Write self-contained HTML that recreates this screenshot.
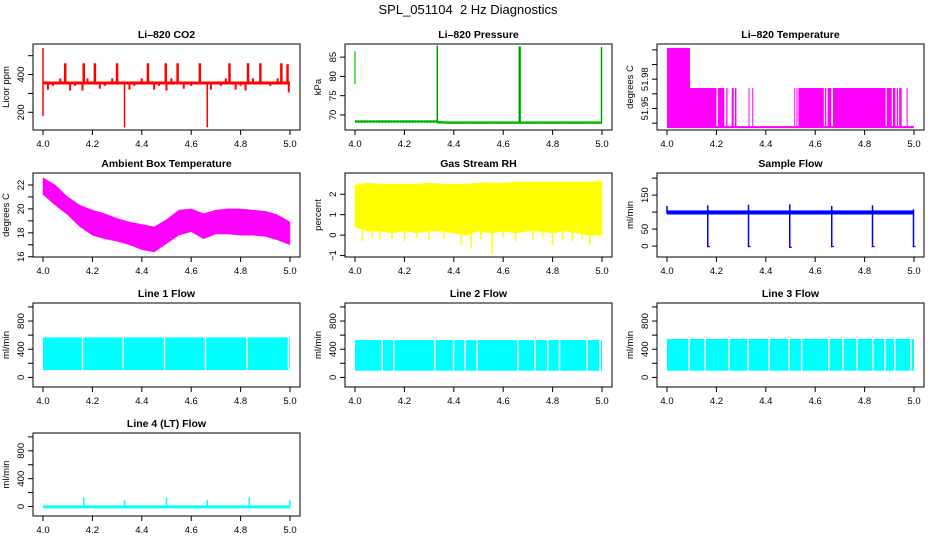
<!DOCTYPE html>
<html><head><meta charset="utf-8">
<style>
html,body{margin:0;padding:0;background:#fff;}
svg{display:block;font-family:"Liberation Sans",Arial,sans-serif;}
</style></head>
<body>
<svg id="c" width="936" height="540" viewBox="0 0 936 540" xmlns="http://www.w3.org/2000/svg">
<text x="468" y="14" text-anchor="middle" font-size="13" xml:space="preserve" style="white-space:pre">SPL_051104  2 Hz Diagnostics</text>
</svg>
<script>
// ---------- data ----------
const xTicks=[4.0,4.2,4.4,4.6,4.8,5.0];
const xTickLabels=["4.0","4.2","4.4","4.6","4.8","5.0"];
const gridX=[4.0,4.05,4.1,4.15,4.2,4.25,4.3,4.35,4.4,4.45,4.5,4.55,4.6,4.65,4.7,4.75,4.8,4.85,4.9,4.95,5.0];
// CO2
const co2Base=355;
const co2SpikeX=[4.09,4.165,4.21,4.30,4.425,4.497,4.545,4.635,4.755,4.83,4.88,4.965,4.99];
const co2SpikeY=[460,460,460,460,460,460,460,460,460,460,460,460,455];
const co2SmallX=[4.02,4.04,4.07,4.11,4.13,4.16,4.18,4.23,4.25,4.28,4.35,4.37,4.40,4.45,4.47,4.50,4.52,4.57,4.60,4.68,4.72,4.74,4.78,4.80,4.82,4.85,4.92,4.95,4.995];
const co2SmallY=[320,340,380,315,340,315,380,325,340,380,320,340,380,320,340,315,380,325,340,320,340,380,320,340,315,380,340,380,305];
const co2DownX=[4.0,4.33,4.665];
const co2DownY=[180,120,120];
// Pressure
const presX=[4.0,4.33,4.335,4.38,5.0];
const presY=[68.3,68.3,68.1,68.0,68.0];
const presSpikeX=[4.333,4.667,4.998];
const presSpikeY=[88.0,87.8,87.6];
// Li-820 temperature
const tempLow=51.931, tempMid=51.971, tempHigh=52.012;
const tempHighBlocks=[[4.0,4.093]];
const tempMidBlocks=[[4.093,4.2],[4.206,4.232],[4.24,4.245],[4.262,4.27],[4.275,4.281],[4.33,4.333],[4.345,4.348],[4.515,4.518],[4.524,4.528],[4.532,4.635],[4.64,4.645],[4.65,4.665],[4.672,4.885],[4.89,4.91],[4.915,4.925],[4.93,4.935],[4.94,4.95],[4.97,4.973]];
// Ambient box temperature envelope
const ambHi=[22.6,22.0,21.0,20.3,19.9,19.6,19.2,18.9,18.7,18.5,19.1,19.9,20.0,19.6,19.9,20.0,20.0,19.9,19.8,19.5,18.9];
const ambLo=[21.2,20.3,19.5,18.5,17.8,17.5,17.3,17.0,16.6,16.4,17.1,17.8,18.1,17.5,17.9,17.9,17.8,17.8,17.7,17.4,17.0];
// Gas stream RH envelope
const rhHi=[2.45,2.55,2.5,2.5,2.5,2.5,2.55,2.5,2.5,2.5,2.55,2.55,2.55,2.6,2.6,2.6,2.6,2.6,2.6,2.6,2.65];
const rhLo=[0.4,0.2,0.2,0.1,0.2,0.1,0.2,0.2,0.1,0.0,0.2,0.1,0.2,0.1,0.2,0.2,0.1,0.2,0.1,0.0,0.0];
const rhSpikeX=[4.03,4.07,4.1,4.15,4.2,4.25,4.3,4.36,4.43,4.47,4.51,4.555,4.6,4.65,4.72,4.76,4.8,4.84,4.88,4.92,4.95];
const rhSpikeY=[-0.3,-0.1,-0.2,-0.2,-0.3,-0.1,-0.2,-0.2,-0.5,-0.6,-0.2,-0.95,-0.1,-0.3,-0.2,-0.1,-0.5,-0.2,-0.3,-0.2,-0.5];
// Sample flow
const sfHi=105, sfLo=93;
const sfEventX=[4.165,4.33,4.497,4.667,4.832,4.998];
const sfEventLow=[-3,-3,-5,-3,-3,-3];
const sfEventHigh=[120,122,123,118,120,108];
// Line flows
const l1Hi=568,l1Lo=104;
const l1Gaps=[4.16,4.325,4.492,4.658,4.826,4.994];
const l2Hi=530,l2Lo=95;
const l2Gaps=[4.11,4.157,4.323,4.399,4.445,4.494,4.659,4.728,4.78,4.828,4.939,4.992];
const l3Hi=545,l3Lo=95;
const l3Gaps=[4.089,4.154,4.251,4.328,4.413,4.494,4.545,4.655,4.712,4.769,4.833,4.882,4.922,4.987];
const l4Base=-5;
const l4SpikeX=[4.165,4.33,4.5,4.665,4.835,5.0];
const l4SpikeY=[130,90,130,90,130,90];

// ---------- helpers ----------
const svg=document.getElementById('c');
const NS='http://www.w3.org/2000/svg';
function mk(tag,attrs,parent){const e=document.createElementNS(NS,tag);for(const k in attrs)e.setAttribute(k,attrs[k]);(parent||svg).appendChild(e);return e;}
const COLS=[33,345,657], ROWS=[[44,130],[173,257],[303,387],[433,516]];
function panel(col,row,title,ylab,ylim,yticks,ylabels,name){
  const L=COLS[col],R=L+267,T=ROWS[row][0],B=ROWS[row][1];
  const g=mk('g',{});
  
  
  const sx=v=>L+10+(v-4)*247;
  const sy=v=>B-(v-ylim[0])/(ylim[1]-ylim[0])*(B-T);
  const t=mk('text',{x:(L+R)/2,y:T-6,'text-anchor':'middle','font-size':10.5,'font-weight':'bold'},g);
  t.textContent=title;
  
  
  const yl=mk('text',{x:0,y:0,'text-anchor':'middle','font-size':9.5,transform:`translate(${L-24},${(T+B)/2}) rotate(-90)`},g);
  yl.textContent=ylab;
  
  
  const data=mk('g',{},g);
  
  
  const box=mk('rect',{x:L,y:T,width:R-L,height:B-T,fill:'none',stroke:'#000','stroke-width':1},g);
  
  
  xTicks.forEach((v,i)=>{
    mk('line',{x1:sx(v),x2:sx(v),y1:B,y2:B+5,stroke:'#000'},g);
    const tl=mk('text',{x:sx(v),y:B+17,'text-anchor':'middle','font-size':9.5},g);
    tl.textContent=xTickLabels[i];
    
    
  });
  yticks.forEach((v,i)=>{
    mk('line',{x1:L,x2:L-5,y1:sy(v),y2:sy(v),stroke:'#000'},g);
    if(ylabels[i]!==''){
      const tl=mk('text',{x:0,y:0,'text-anchor':'middle','font-size':9.5,transform:`translate(${L-9},${sy(v)}) rotate(-90)`},g);
      tl.textContent=ylabels[i];
      
      
    }
  });
  return {sx,sy,g:data};
}
function band(p,hi,lo,color){
  let d='M';
  gridX.forEach((x,i)=>{d+=p.sx(x)+','+p.sy(hi[i])+' L';});
  for(let i=gridX.length-1;i>=0;i--){d+=p.sx(gridX[i])+','+p.sy(lo[i])+(i>0?' L':' Z');}
  const e=mk('path',{d:d,fill:color,stroke:color,'stroke-width':0.5},p.g);
  
  
}
function vline(p,x,y1,y2,color,w){
  const e=mk('line',{x1:p.sx(x),x2:p.sx(x),y1:p.sy(y1),y2:p.sy(y2),stroke:color,'stroke-width':w||1},p.g);
  
  
}

// ---------- panels ----------
let p=panel(0,0,'Li\u2013820 CO2','Licor ppm',[106,562],[200,300,400,500],['200','','400','']);
co2SmallX.forEach((x,i)=>vline(p,x,co2Base,co2SmallY[i],'#ff0000',2));
co2SpikeX.forEach((x,i)=>vline(p,x,co2Base,co2SpikeY[i],'#ff0000',2.5));
co2DownX.forEach((x,i)=>vline(p,x,co2Base,co2DownY[i],'#ff0000',1.5));
vline(p,4.0,co2Base,540,'#ff0000',1.5);
{const e=mk('line',{x1:p.sx(4.0),x2:p.sx(5.0),y1:p.sy(co2Base),y2:p.sy(co2Base),stroke:'#ff0000','stroke-width':3},p.g);
}

p=panel(1,0,'Li\u2013820 Pressure','kPa',[66.1,88.4],[70,75,80,85],['70','75','80','85']);
{const pts=presX.map((x,i)=>p.sx(x)+','+p.sy(presY[i])).join(' ');
const e=mk('polyline',{points:pts,fill:'none',stroke:'#00cc00','stroke-width':2.5},p.g);

const e2=mk('polyline',{points:pts,fill:'none',stroke:'#006600','stroke-width':1,'stroke-dasharray':'1 2'},p.g);
}
presSpikeX.forEach((x,i)=>{vline(p,x,68.1,presSpikeY[i],'#00cc00',i==1?2.5:1.5);vline(p,x,68.1,presSpikeY[i],'#006600',0.6);});
vline(p,4.0,78,86.5,'#00cc00',1.2);

p=panel(2,0,'Li\u2013820 Temperature','degrees C',[51.928,52.016],[51.935,51.95,51.965,51.98,51.995,52.01],['','51.95','','51.98','','']);
tempHighBlocks.forEach(b=>{const e=mk('rect',{x:p.sx(b[0]),y:p.sy(tempHigh),width:p.sx(b[1])-p.sx(b[0]),height:p.sy(tempLow)-p.sy(tempHigh),fill:'#ff00ff'},p.g);});
tempMidBlocks.forEach(b=>{const e=mk('rect',{x:p.sx(b[0]),y:p.sy(tempMid),width:Math.max(1,p.sx(b[1])-p.sx(b[0])),height:p.sy(tempLow)-p.sy(tempMid),fill:'#ff00ff'},p.g);});
{const e=mk('line',{x1:p.sx(4.0),x2:p.sx(5.0),y1:p.sy(tempLow),y2:p.sy(tempLow),stroke:'#ff00ff','stroke-width':2},p.g);}

p=panel(0,1,'Ambient Box Temperature','degrees C',[15.98,23.0],[16,17,18,19,20,21,22],['16','','18','','20','','22']);
band(p,ambHi,ambLo,'#ff00ff');

p=panel(1,1,'Gas Stream RH','percent',[-1.07,3.04],[-1,0,1,2],['\u22121','0','1','2']);
band(p,rhHi,rhLo,'#ffff00');
rhSpikeX.forEach((x,i)=>vline(p,x,0.3,rhSpikeY[i],'#ffff00',1.5));

p=panel(2,1,'Sample Flow','ml/min',[-32,215],[0,50,100,150,200],['0','50','','150','']);
{const e=mk('rect',{x:p.sx(4.0),y:p.sy(sfHi),width:p.sx(5.0)-p.sx(4.0),height:p.sy(sfLo)-p.sy(sfHi),fill:'#0000ff'},p.g);}
sfEventX.forEach((x,i)=>{vline(p,x,sfEventLow[i],sfEventHigh[i],'#0000ff',1.5);vline(p,x+0.003,sfEventLow[i],sfEventLow[i]+3,'#0000ff',3);});
vline(p,4.0,95,118,'#0000ff',1.5);

const flowTicks=[0,200,400,600,800,1000];
const flowLabels=['0','','400','','800',''];
function flowPanel(col,row,title,hi,lo,gaps,name){
  const q=panel(col,row,title,'ml/min',[-136,1056],flowTicks,flowLabels,name);
  const e=mk('rect',{x:q.sx(4.0),y:q.sy(hi),width:q.sx(5.0)-q.sx(4.0),height:q.sy(lo)-q.sy(hi),fill:'#00ffff'},q.g);
  
  
  gaps.forEach(x=>vline(q,x,lo+5,hi+5,'#ffffff',1.5));
  return q;
}
flowPanel(0,2,'Line 1 Flow',l1Hi,l1Lo,l1Gaps,'line1-flow');
flowPanel(1,2,'Line 2 Flow',l2Hi,l2Lo,l2Gaps,'line2-flow');
flowPanel(2,2,'Line 3 Flow',l3Hi,l3Lo,l3Gaps,'line3-flow');
p=panel(0,3,'Line 4 (LT) Flow','ml/min',[-136,1056],flowTicks,flowLabels,'line4-flow');
{const e=mk('line',{x1:p.sx(4.0),x2:p.sx(5.0),y1:p.sy(l4Base),y2:p.sy(l4Base),stroke:'#00ffff','stroke-width':3},p.g);}
l4SpikeX.forEach((x,i)=>vline(p,x,l4Base,l4SpikeY[i],'#00ffff',1.5));
</script>
</body></html>
